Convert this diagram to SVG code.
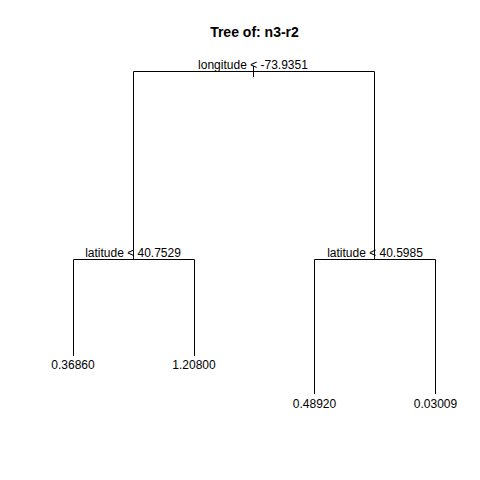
<svg xmlns="http://www.w3.org/2000/svg" width="480" height="480" viewBox="0 0 480 480">
<style>
.e{stroke:#000;stroke-width:1;fill:none}
.t{font-family:"Liberation Sans",Arial,sans-serif;font-size:12px;fill:#000;text-anchor:middle}
.ti{font-family:"Liberation Sans",Arial,sans-serif;font-size:14px;font-weight:bold;fill:#000;text-anchor:middle}
</style>
<rect width="480" height="480" fill="#fff"/>
<text class="ti" x="254.5" y="36.5">Tree of: n3-r2</text>
<g id="connectors">
<path class="e" d="M133.5,259.5 V71.5 H374.5 V259.5"/>
<path class="e" d="M253.5,66 V77"/>
<path class="e" d="M73.5,356 V259.5 H194.5 V356"/>
<path class="e" d="M314.5,394 V259.5 H435.5 V394"/>
</g>
<g id="root"><text class="t" x="253" y="69">longitude &lt; -73.9351</text></g>
<g id="left"><text class="t" x="133" y="257">latitude &lt; 40.7529</text></g>
<g id="right"><text class="t" x="375" y="257">latitude &lt; 40.5985</text></g>
<g id="leaf1"><text class="t" x="73" y="368.5">0.36860</text></g>
<g id="leaf2"><text class="t" x="194" y="368.5">1.20800</text></g>
<g id="leaf3"><text class="t" x="314.5" y="408">0.48920</text></g>
<g id="leaf4"><text class="t" x="435.5" y="408">0.03009</text></g>
</svg>
